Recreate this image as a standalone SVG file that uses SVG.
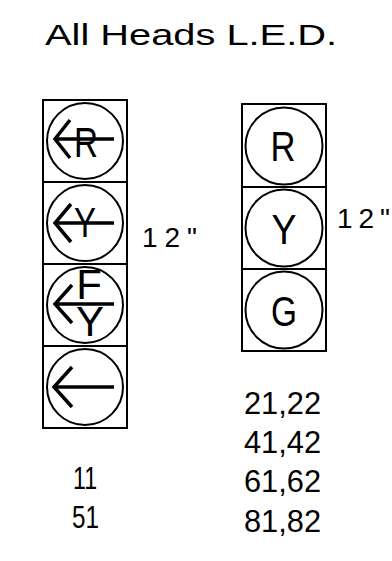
<svg xmlns="http://www.w3.org/2000/svg" width="392" height="561" viewBox="0 0 392 561">
<style>
.box{fill:none;stroke:#000;stroke-width:2}
.lens{fill:none;stroke:#000;stroke-width:2}
.arr{fill:none;stroke:#000;stroke-width:3.5;stroke-linecap:butt;stroke-linejoin:miter}
.t{font-family:"Liberation Sans",Arial,sans-serif;fill:#000}
.lt{font-family:"Liberation Sans",Arial,sans-serif;fill:#000;font-size:42px;text-anchor:middle}
</style>
<rect width="392" height="561" fill="#fff"/>
<text class="t" x="45" y="45" font-size="30" textLength="292" lengthAdjust="spacingAndGlyphs">All Heads L.E.D.</text>

<g id="left-head">
  <rect class="box" x="43" y="100" width="84" height="328"/>
  <line class="box" x1="43" y1="182" x2="127" y2="182"/>
  <line class="box" x1="43" y1="264" x2="127" y2="264"/>
  <line class="box" x1="43" y1="346" x2="127" y2="346"/>
  <g id="left-red-arrow">
    <circle class="lens" cx="85" cy="141" r="38"/>
    <line class="arr" x1="55" y1="139" x2="114" y2="139"/>
    <polyline class="arr" points="70,120 55,139 70,158"/>
    <text class="lt" x="86" y="157" font-size="42" textLength="24" lengthAdjust="spacingAndGlyphs">R</text>
  </g>
  <g id="left-yellow-arrow">
    <circle class="lens" cx="85" cy="223" r="38"/>
    <line class="arr" x1="55" y1="223" x2="114" y2="223"/>
    <polyline class="arr" points="71,204 55,223 71,242"/>
    <text class="lt" x="85" y="237" font-size="40" textLength="22" lengthAdjust="spacingAndGlyphs">Y</text>
  </g>
  <g id="left-flashing-yellow-arrow">
    <circle class="lens" cx="85" cy="305" r="38"/>
    <line class="arr" x1="55" y1="304" x2="114" y2="304"/>
    <polyline class="arr" points="72,285 55,304 72,323"/>
    <text class="lt" font-size="33"><tspan x="89" y="299">F</tspan><tspan x="90" y="336">Y</tspan></text>
  </g>
  <g id="left-green-arrow">
    <circle class="lens" cx="85" cy="387" r="38"/>
    <line class="arr" x1="54" y1="387" x2="114" y2="387"/>
    <polyline class="arr" points="72,367 54,387 72,407"/>
  </g>
</g>

<g id="right-head">
  <rect class="box" x="242" y="104" width="84" height="247"/>
  <line class="box" x1="242" y1="187" x2="326" y2="187"/>
  <line class="box" x1="242" y1="269" x2="326" y2="269"/>
  <g id="right-red">
    <circle class="lens" cx="284" cy="146" r="38.5"/>
    <text class="lt" x="283" y="161" textLength="25" lengthAdjust="spacingAndGlyphs">R</text>
  </g>
  <g id="right-yellow">
    <circle class="lens" cx="284" cy="228" r="38.5"/>
    <text class="lt" x="284" y="244" textLength="25" lengthAdjust="spacingAndGlyphs">Y</text>
  </g>
  <g id="right-green">
    <circle class="lens" cx="284" cy="310" r="38.5"/>
    <text class="lt" x="284" y="326" textLength="26" lengthAdjust="spacingAndGlyphs">G</text>
  </g>
</g>

<text class="t" x="142" y="247" font-size="28" textLength="55" lengthAdjust="spacing">12"</text>
<text class="t" x="337" y="228" font-size="28" textLength="53" lengthAdjust="spacing">12"</text>

<text class="t" x="73" y="489" font-size="32" textLength="24" lengthAdjust="spacingAndGlyphs">11</text>
<text class="t" x="72" y="528" font-size="32" textLength="27" lengthAdjust="spacingAndGlyphs">51</text>

<text class="t" x="244" y="414" font-size="32" textLength="77" lengthAdjust="spacingAndGlyphs">21,22</text>
<text class="t" x="244" y="453" font-size="32" textLength="77" lengthAdjust="spacingAndGlyphs">41,42</text>
<text class="t" x="244" y="492" font-size="32" textLength="77" lengthAdjust="spacingAndGlyphs">61,62</text>
<text class="t" x="244" y="532" font-size="32" textLength="77" lengthAdjust="spacingAndGlyphs">81,82</text>
</svg>
